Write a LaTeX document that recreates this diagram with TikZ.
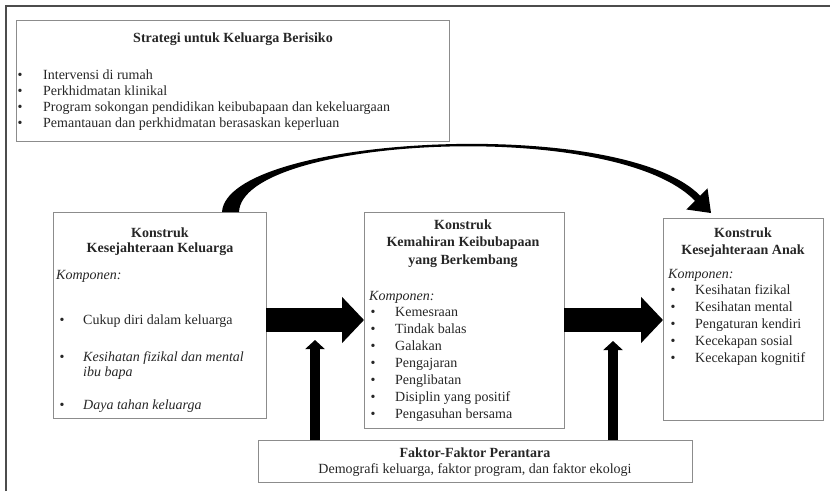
\documentclass[tikz,border=0pt]{standalone}
\usepackage{fontspec}
\setmainfont{Liberation Serif}
\usetikzlibrary{arrows.meta}
\usetikzlibrary{positioning}
\usetikzlibrary{calc}
\tikzset{box/.style = {draw=black!45, line width=0.9pt, outer sep=0, inner sep=0}}
\tikzset{ttl/.style = {anchor=base, inner sep=0, font=\fontsize{14}{16}\selectfont\bfseries}}
\tikzset{itm/.style = {anchor=base west, inner sep=0, font=\fontsize{14}{16}\selectfont}}
\tikzset{dot/.style = {anchor=base, inner sep=0, font=\fontsize{14}{16}\selectfont}}
\tikzset{bigarrow/.style = {line width=24pt, -{Triangle[length=22pt 0 0, width=45pt 0 0]}}}
\tikzset{uparrow/.style = {line width=10pt, -{Triangle[length=9pt 0 0, width=19pt 0 0]}}}

\begin{document}
\begin{tikzpicture}[x=1pt, y=-1pt, text=black!85]
            \useasboundingbox (0,0) rectangle (830,491);
            \draw [line width=1.2pt, black!70] (6,491)--(6,6)--(830,6);
            \node [box, minimum width=433pt, minimum height=121pt] (strat) at (232.5,80.5) {};
            \node [box, minimum width=213pt, minimum height=206pt] (fam) at (159.5,315) {};
            \node [box, minimum width=200pt, minimum height=216pt] (par) at (464,320) {};
            \node [box, minimum width=160pt, minimum height=202pt] (chd) at (743,319) {};
            \node [box, minimum width=434pt, minimum height=42pt] (med) at (475,461) {};
            \node [ttl] (strattl) at (233,42) {Strategi untuk Keluarga Berisiko};
            \foreach \t [count=\i] in {Intervensi di rumah, Perkhidmatan klinikal, Program sokongan pendidikan keibubapaan dan kekeluargaan, Pemantauan dan perkhidmatan berasaskan keperluan} {
                \node [dot] (sd\i) at (20,{63+16*\i}) {•};
                \node [itm] (st\i) at (43,{63+16*\i}) {\t};
            }
            \node [ttl] (famt1) at (160,237) {Konstruk};
            \node [ttl] (famt2) at (160,252) {Kesejahteraan Keluarga};
            \node [itm] (famk) at (56,279) {\itshape Komponen:};
            \node [dot] (fd1) at (62,324) {•};
            \node [itm] (fi1) at (83,324) {Cukup diri dalam keluarga};
            \node [dot] (fd2) at (62,361) {•};
            \node [itm] (fi2) at (83,361) {\itshape Kesihatan fizikal dan mental};
            \node [itm] (fi2b) at (83,376) {\itshape ibu bapa};
            \node [dot] (fd3) at (62,409) {•};
            \node [itm] (fi3) at (83,409) {\itshape Daya tahan keluarga};
            \node [ttl] (part1) at (463,229) {Konstruk};
            \node [ttl] (part2) at (463,246) {Kemahiran Keibubapaan};
            \node [ttl] (part3) at (463,264) {yang Berkembang};
            \node [itm] (park) at (369,300) {\itshape Komponen:};
            \foreach \t [count=\i] in {Kemesraan, Tindak balas, Galakan, Pengajaran, Penglibatan, Disiplin yang positif, Pengasuhan bersama} {
                \node [dot] (pd\i) at (373,{299+17*\i}) {•};
                \node [itm] (pi\i) at (395,{299+17*\i}) {\t};
            }
            \node [ttl] (chdt1) at (743,237) {Konstruk};
            \node [ttl] (chdt2) at (743,254) {Kesejahteraan Anak};
            \node [itm] (chdk) at (668,278) {\itshape Komponen:};
            \foreach \t [count=\i] in {Kesihatan fizikal, Kesihatan mental, Pengaturan kendiri, Kecekapan sosial, Kecekapan kognitif} {
                \node [dot] (cd\i) at (673,{277+17*\i}) {•};
                \node [itm] (ci\i) at (695,{277+17*\i}) {\t};
            }
            \node [ttl] (medt) at (475,457) {Faktor-Faktor Perantara};
            \node [dot] (medl) at (475,473) {Demografi keluarga, faktor program, dan faktor ekologi};
            \draw [bigarrow] (fam.east |- par.west)--(par.west);
            \draw [bigarrow] (par.east)--(chd.west |- par.east);
            \coordinate (up1) at (315,340);
            \coordinate (up2) at (613,341);
            \draw [uparrow] (med.north -| up1)--(up1);
            \draw [uparrow] (med.north -| up2)--(up2);
            \fill [black] ($(fam.north)+(62.5,0)$) .. controls (227,136) and (620,114) .. (700.2,195.7)
                -- (707.5,188.3) -- ($(chd.north)+(-32,-5)$) -- (686.3,209.5) -- (695,200.8)
                .. controls (614,117) and (242,137) .. ($(fam.north)+(79.5,0)$) -- cycle;
        \end{tikzpicture}
\end{document}
